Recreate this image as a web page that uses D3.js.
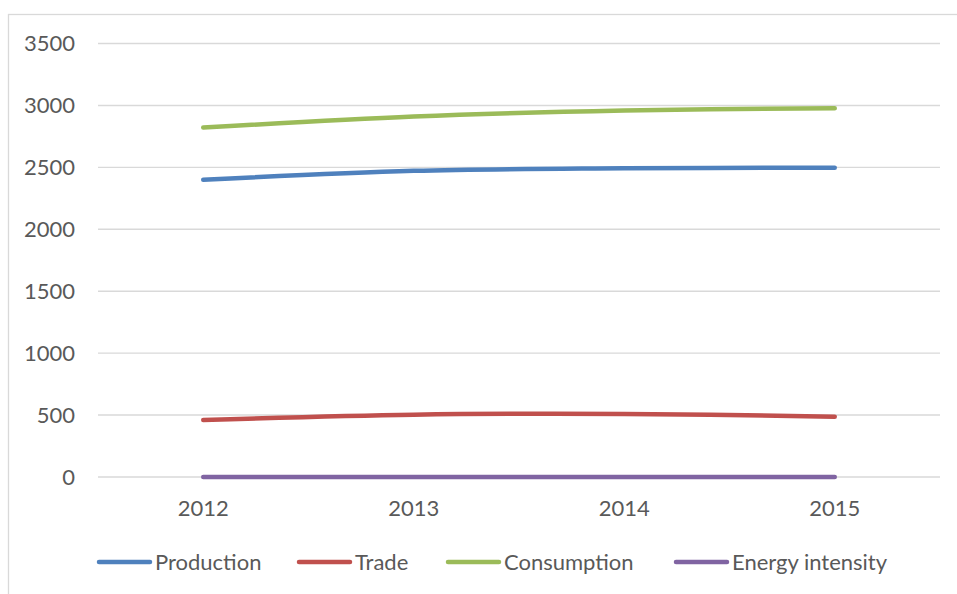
<!DOCTYPE html>
<html>
<head>
<meta charset="utf-8">
<script src="https://cdn.jsdelivr.net/npm/d3@7"></script>
<style>
  html, body { margin: 0; padding: 0; background: #ffffff; }
  svg { display: block; }
  text { font-family: Lato, "Open Sans", sans-serif; fill: #595959; }
</style>
</head>
<body>
<svg id="chart" width="957" height="594"></svg>
<script>
// Energy balance by year
const years = ["2012", "2013", "2014", "2015"];
const production = [2399, 2472, 2492, 2497];
const trade = [460, 503, 509, 487];
const consumption = [2821, 2911, 2959, 2978];
const energyIntensity = [0.2, 0.2, 0.2, 0.2];
const yTicks = [0, 500, 1000, 1500, 2000, 2500, 3000, 3500];

const seriesNames = ["Production", "Trade", "Consumption", "Energy intensity"];
const seriesColors = ["#4F81BD", "#C0504D", "#9BBB59", "#8064A2"];
const seriesValues = [production, trade, consumption, energyIntensity];

const W = 957, H = 594;
const plot = { left: 98, right: 940, top: 43.5, bottom: 477 };
const fontSize = "22px";

const svg = d3.select("#chart");

// outer chart frame (only top and left edges fall inside the window)
svg.append("rect")
  .attr("x", 8.5).attr("y", 14.5)
  .attr("width", W + 20).attr("height", H + 20)
  .attr("fill", "none")
  .attr("stroke", "#d9d9d9")
  .attr("stroke-width", 1.3);

const x = d3.scaleBand().domain(years).range([plot.left, plot.right]);
const y = d3.scaleLinear().domain([0, 3500]).range([plot.bottom, plot.top]);

// horizontal gridlines
svg.append("g")
  .selectAll("line")
  .data(yTicks)
  .join("line")
  .attr("x1", plot.left).attr("x2", plot.right)
  .attr("y1", d => y(d)).attr("y2", d => y(d))
  .attr("stroke", "#d9d9d9")
  .attr("stroke-width", 1.4);

// y-axis labels
const yAxis = d3.axisLeft(y).tickValues(yTicks).tickSize(0).tickPadding(0).tickFormat(d3.format("d"));
const gy = svg.append("g").attr("transform", `translate(${plot.left - 23},0)`).call(yAxis);
gy.select(".domain").remove();
gy.selectAll("text")
  .attr("fill", "#595959")
  .style("font-size", fontSize)
  .style("font-family", "Lato, sans-serif");

// x-axis labels
const xAxis = d3.axisBottom(x).tickSize(0).tickPadding(0);
const gx = svg.append("g").attr("transform", `translate(0,${plot.bottom + 23})`).call(xAxis);
gx.select(".domain").remove();
gx.selectAll("text")
  .attr("fill", "#595959")
  .style("font-size", fontSize)
  .style("font-family", "Lato, sans-serif");

// smoothed series lines
const line = d3.line()
  .x((d, i) => x(years[i]) + x.bandwidth() / 2)
  .y(d => y(d))
  .curve(d3.curveCatmullRom.alpha(0));

svg.append("g")
  .selectAll("path")
  .data(seriesValues)
  .join("path")
  .attr("d", d => line(d))
  .attr("fill", "none")
  .attr("stroke", (d, i) => seriesColors[i])
  .attr("stroke-width", 4.5)
  .attr("stroke-linecap", "round")
  .attr("stroke-linejoin", "round");

// legend
const legendX = [99, 299, 448, 676];
const legendY = 562;
const lg = svg.append("g")
  .selectAll("g")
  .data(seriesNames)
  .join("g")
  .attr("transform", (d, i) => `translate(${legendX[i]},${legendY})`);

lg.append("line")
  .attr("x1", 0).attr("x2", 51)
  .attr("y1", 0).attr("y2", 0)
  .attr("stroke", (d, i) => seriesColors[i])
  .attr("stroke-width", 4.5)
  .attr("stroke-linecap", "round");

lg.append("text")
  .attr("x", 56)
  .attr("y", 0)
  .attr("dy", "0.35em")
  .style("font-size", fontSize)
  .text(d => d);
</script>
</body>
</html>
